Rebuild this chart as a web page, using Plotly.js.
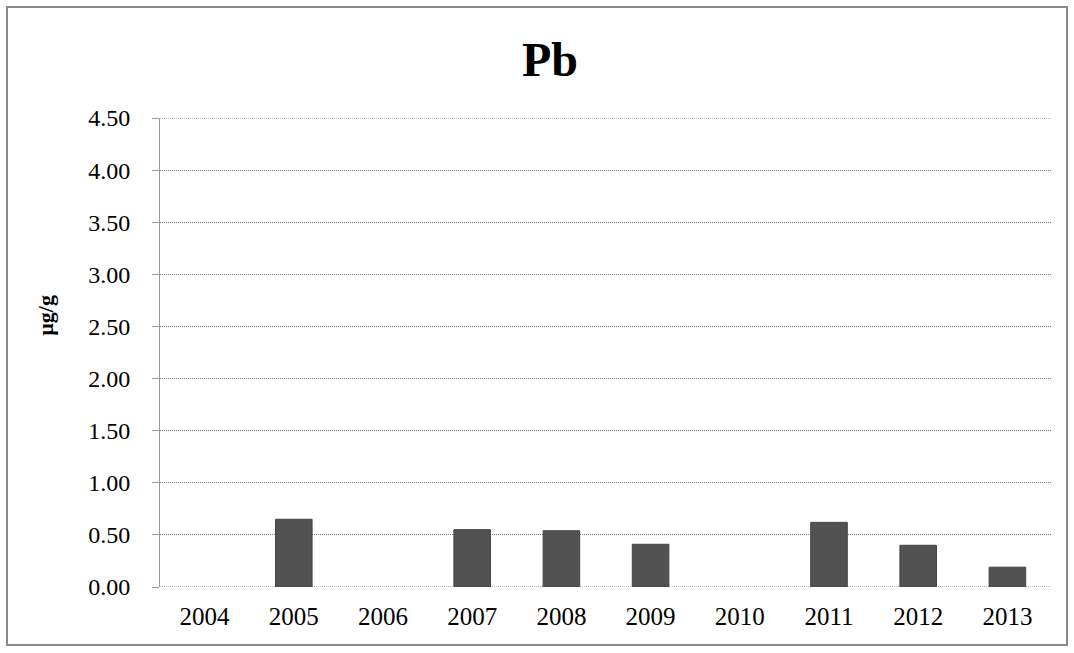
<!DOCTYPE html>
<html>
<head>
<meta charset="utf-8">
<script src="https://cdn.plot.ly/plotly-3.0.1.min.js"></script>
<style>
html,body{margin:0;padding:0;background:#fff;}
#wrap{position:relative;width:1074px;height:653px;}
#chart{width:1074px;height:653px;}
#frame{position:absolute;left:6px;top:6px;width:1062px;height:640px;border:2px solid #8a8a8a;box-sizing:border-box;pointer-events:none;}
</style>
</head>
<body>
<div id="wrap"><div id="chart"></div><div id="frame"></div></div>
<script>
var years = ['2004','2005','2006','2007','2008','2009','2010','2011','2012','2013'];
var pb = [null, 0.65, null, 0.55, 0.54, 0.41, null, 0.62, 0.40, 0.19];
var yTicks = [0,0.5,1,1.5,2,2.5,3,3.5,4,4.5];
var yTickText = yTicks.map(function(v){return v.toFixed(2);});
var unitLabel = 'µg/g';
var chartTitle = 'Pb';
var yMin = 0, yMax = 4.5;

var gridStyle = {color:'#7a7a7a', width:1, dash:'1px,1px'};
var trace = {
  type:'bar', x: years, y: pb,
  marker:{color:'#525252', line:{color:'#444', width:1}},
  hoverinfo:'x+y'
};
var layout = {
  width:1074, height:653,
  margin:{l:160, r:22, t:118, b:66},
  paper_bgcolor:'#fff', plot_bgcolor:'#fff',
  bargap:0.59,
  showlegend:false,
  title:{text:'<b>'+chartTitle+'</b>', x:0.512, xanchor:'center', y:0.91, yanchor:'middle',
         font:{family:'Liberation Serif, Times New Roman, serif', size:48, color:'#000'}},
  font:{family:'Liberation Serif, Times New Roman, serif', size:24, color:'#000'},
  xaxis:{type:'category', showgrid:false, zeroline:false, showline:false, ticks:'',
         tickfont:{size:25}, ticklabelstandoff:12},
  yaxis:{range:[yMin,yMax], tickvals:yTicks, ticktext:yTickText,
         showgrid:true, gridcolor:'#7a7a7a', griddash:'1px,1px', gridwidth:1,
         zeroline:false, showline:true, linecolor:'#9a9a9a', linewidth:1,
         ticks:'outside', ticklen:7, tickcolor:'#9a9a9a',
         tickfont:{size:24}, ticklabelstandoff:17},
  shapes:[
    {type:'line', xref:'paper', yref:'y', x0:0, x1:1, y0:yMin, y1:yMin, line:gridStyle, layer:'below'},
    {type:'line', xref:'paper', yref:'y', x0:0, x1:1, y0:yMax, y1:yMax, line:gridStyle, layer:'below'}
  ],
  annotations:[{
    text:'<b>'+unitLabel+'</b>', textangle:-90, showarrow:false,
    xref:'paper', yref:'paper', x:-0.128, y:0.58, xanchor:'center', yanchor:'middle',
    font:{family:'Liberation Serif, Times New Roman, serif', size:22, color:'#000'}
  }]
};
Plotly.newPlot('chart',[trace],layout,{displayModeBar:false});
</script>
</body>
</html>
